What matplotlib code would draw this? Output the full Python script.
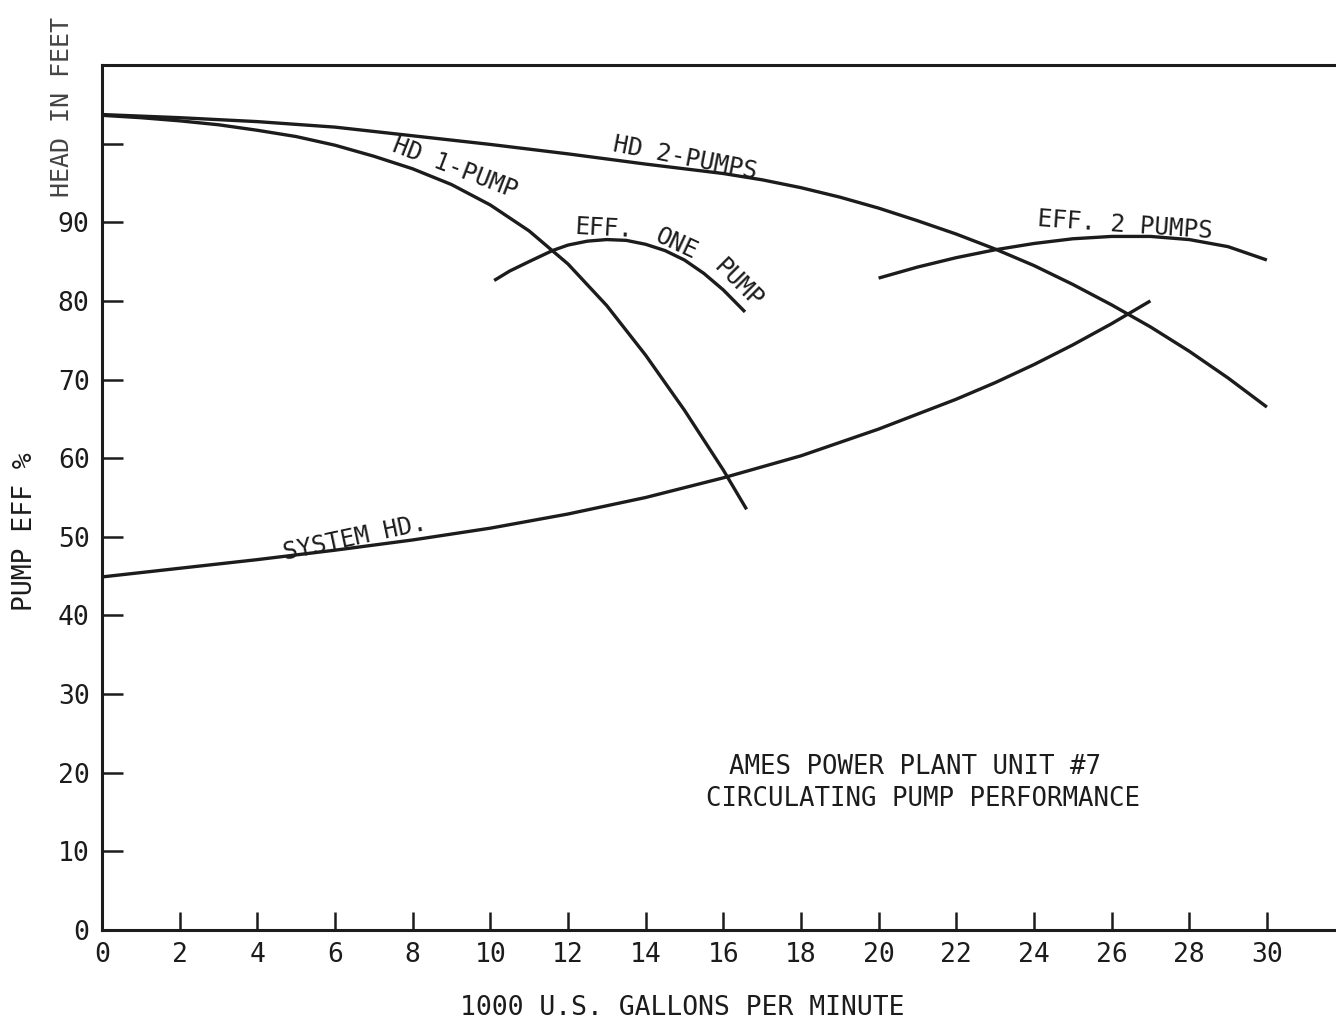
import matplotlib
matplotlib.use("Agg")
import matplotlib.pyplot as plt

# Flow in 1000 U.S. gallons per minute, head in feet / efficiency in percent
hd2_flow = [0, 2, 4, 6, 8, 10, 12, 14, 16, 17, 18, 19, 20, 21, 22, 23, 24, 25, 26, 27, 28, 29, 30]
hd2_head = [103.7, 103.3, 102.8, 102.1, 101.0, 99.9, 98.7, 97.4, 96.2, 95.4, 94.4, 93.2, 91.8,
            90.2, 88.5, 86.6, 84.5, 82.1, 79.5, 76.7, 73.6, 70.2, 66.5]

hd1_flow = [0, 1, 2, 3, 4, 5, 6, 7, 8, 9, 10, 11, 12, 13, 14, 15, 16, 16.6]
hd1_head = [103.6, 103.3, 102.9, 102.4, 101.7, 100.9, 99.8, 98.4, 96.8, 94.8, 92.2, 88.9,
            84.7, 79.4, 73.1, 66.1, 58.5, 53.5]

eff1_flow = [10.1, 10.5, 11, 11.6, 12, 12.5, 13, 13.5, 14, 14.5, 15, 15.5, 16, 16.56]
eff1_pct = [82.6, 83.8, 85.0, 86.4, 87.1, 87.6, 87.8, 87.7, 87.2, 86.4, 85.2, 83.5, 81.4, 78.6]

eff2_flow = [20, 21, 22, 23, 24, 25, 26, 27, 28, 29, 30]
eff2_pct = [82.9, 84.3, 85.5, 86.5, 87.3, 87.9, 88.2, 88.2, 87.8, 86.9, 85.2]

sys_flow = [0, 2, 4, 6, 8, 10, 12, 14, 16, 18, 20, 22, 23, 24, 25, 26, 27]
sys_head = [44.9, 46.0, 47.1, 48.3, 49.6, 51.1, 52.9, 55.0, 57.5, 60.3, 63.7, 67.5, 69.6,
            71.9, 74.4, 77.1, 80.0]

x_ticks = list(range(0, 31, 2))
y_ticks = list(range(0, 101, 10))
y_tick_labels = [str(v) for v in range(0, 91, 10)] + [""]

INK = "#1c1c1c"
FONT = "DejaVu Sans Mono"
plt.rcParams["font.family"] = FONT

fig = plt.figure(figsize=(13.36, 10.25), dpi=100)
ax = fig.add_axes([102 / 1336, 1 - 930 / 1025, 1 - 102 / 1336, (930 - 65) / 1025])
ax.set_xlim(0, 31.78)
ax.set_ylim(0, 110)

lw = 2.4
for xs, ys in [(hd2_flow, hd2_head), (hd1_flow, hd1_head), (eff1_flow, eff1_pct),
               (eff2_flow, eff2_pct), (sys_flow, sys_head)]:
    ax.plot(xs, ys, color=INK, lw=lw, solid_capstyle="butt", solid_joinstyle="round")

for side in ("left", "bottom", "top"):
    ax.spines[side].set_linewidth(2.2)
    ax.spines[side].set_color(INK)
ax.spines["right"].set_visible(False)

ax.set_xticks(x_ticks)
ax.set_xticklabels([str(v) for v in x_ticks])
ax.set_yticks(y_ticks)
ax.set_yticklabels(y_tick_labels)
ax.tick_params(axis="y", direction="in", length=15, width=1.8, color=INK,
               labelsize=19, labelcolor=INK, pad=9)
ax.tick_params(axis="x", direction="in", length=13, width=1.8, color=INK,
               labelsize=19, labelcolor=INK, pad=9)

# Curve labels
lab = dict(fontsize=17.5, color=INK, ha="center", va="center", rotation_mode="anchor")
ax.text(9.1, (930 - 168) / 7.867, "HD 1-PUMP", rotation=-21, **lab)
ax.text(15.02, (930 - 158) / 7.867, "HD 2-PUMPS", rotation=-11, **lab)
ax.text(12.93, (930 - 228) / 7.867, "EFF.", rotation=-3, **lab)
ax.text(14.8, (930 - 244) / 7.867, "ONE", rotation=-25, **lab)
ax.text(16.38, (930 - 283) / 7.867, "PUMP", rotation=-45, **lab)
ax.text(26.35, (930 - 225) / 7.867, "EFF. 2 PUMPS", rotation=-4, **lab)
ax.text(6.52, (930 - 538) / 7.867, "SYSTEM HD.", rotation=12, **lab)

ax.text(20.93, (930 - 767) / 7.867, "AMES POWER PLANT UNIT #7", fontsize=18.5,
        color=INK, ha="center", va="center")
ax.text(21.14, (930 - 799) / 7.867, "CIRCULATING PUMP PERFORMANCE", fontsize=18.5,
        color=INK, ha="center", va="center")

# Axis titles
fig.text(682 / 1336, 1 - 1008 / 1025, "1000 U.S. GALLONS PER MINUTE", fontsize=19,
         color=INK, ha="center", va="center")
fig.text(25 / 1336, 1 - 532 / 1025, "PUMP EFF %", fontsize=19, color=INK,
         rotation=90, ha="center", va="center")
fig.text(62 / 1336, 1 - 107 / 1025, "HEAD IN FEET", fontsize=18, color="#444444",
         rotation=90, ha="center", va="center")

fig.savefig("out.png", dpi=100, facecolor="white")
